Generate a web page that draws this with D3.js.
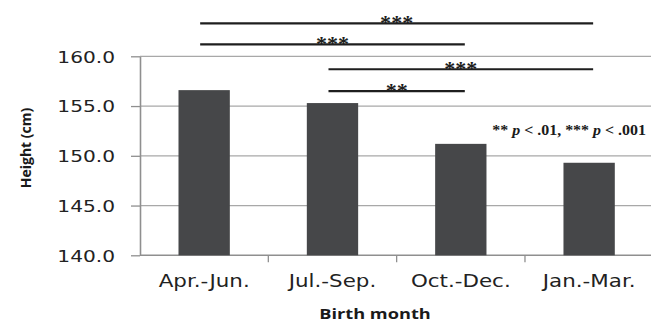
<!DOCTYPE html>
<html>
<head>
<meta charset="utf-8">
<script src="https://cdn.jsdelivr.net/npm/d3@7"></script>
<style>
  html, body { margin: 0; padding: 0; background: #fff; }
  svg { display: block; }
</style>
</head>
<body>
<svg id="chart" width="651" height="322"></svg>
<script>
// Mean height by birth quarter
const categories = ["Apr.-Jun.", "Jul.-Sep.", "Oct.-Dec.", "Jan.-Mar."];
const heights = [156.6, 155.3, 151.2, 149.3];
const yTicks = [140, 145, 150, 155, 160];

// Pairwise comparisons drawn as brackets above the bars
const compFrom = ["Apr.-Jun.", "Apr.-Jun.", "Jul.-Sep.", "Jul.-Sep."];
const compTo = ["Jan.-Mar.", "Oct.-Dec.", "Jan.-Mar.", "Oct.-Dec."];
const compLevel = [163.3, 161.2, 158.7, 156.5];
const compStars = ["***", "***", "***", "**"];

const svg = d3.select("#chart");

const plotLeft = 140, plotRight = 653.3, plotTop = 56.3, plotBottom = 255.3;
const x = d3.scaleBand().domain(categories).range([plotLeft, plotRight])
  .paddingInner(0.6).paddingOuter(0.3);
const y = d3.scaleLinear().domain([140, 160]).range([plotBottom, plotTop]);

const gridColor = "#a8a8a8", axisColor = "#8f8f8f";
const stretch = 1.26;

// horizontal gridlines
svg.append("g").selectAll("line").data(yTicks.slice(1)).join("line")
  .attr("x1", plotLeft).attr("x2", 651)
  .attr("y1", d => y(d)).attr("y2", d => y(d))
  .attr("stroke", gridColor).attr("stroke-width", 1.3);

// y axis
const yAxis = svg.append("g").attr("transform", `translate(${plotLeft},0)`)
  .call(d3.axisLeft(y).tickValues(yTicks).tickFormat(d3.format(".1f"))
    .tickSize(9).tickSizeOuter(0));
yAxis.select(".domain").attr("stroke", axisColor).attr("stroke-width", 1.6);
yAxis.selectAll(".tick line").attr("stroke", axisColor).attr("stroke-width", 1.3);
yAxis.selectAll(".tick text")
  .attr("x", null).attr("dy", "0.36em")
  .attr("transform", `translate(-25,0) scale(${stretch},1)`)
  .attr("fill", "#222")
  .style("font-family", "'DejaVu Sans', Verdana, sans-serif")
  .style("font-size", "16px");

// x axis
const boundaries = categories.slice(1).map(c => x(c) - x.step() * x.paddingInner() / 2);
const xAxis = svg.append("g");
xAxis.append("line").attr("x1", plotLeft).attr("x2", 651)
  .attr("y1", plotBottom).attr("y2", plotBottom)
  .attr("stroke", axisColor).attr("stroke-width", 1.6);
xAxis.selectAll("line.tk").data(boundaries).join("line").attr("class", "tk")
  .attr("x1", d => d).attr("x2", d => d)
  .attr("y1", plotBottom).attr("y2", plotBottom + 7)
  .attr("stroke", axisColor).attr("stroke-width", 1.3);
xAxis.selectAll("text").data(categories).join("text")
  .attr("transform", d => `translate(${x(d) + x.bandwidth() / 2},286.7) scale(${stretch},1)`)
  .attr("text-anchor", "middle")
  .attr("fill", "#222")
  .style("font-family", "'DejaVu Sans', Verdana, sans-serif")
  .style("font-size", "17px")
  .text(d => d);

// bars
svg.append("g").selectAll("rect").data(heights).join("rect")
  .attr("x", (d, i) => x(categories[i]))
  .attr("width", x.bandwidth())
  .attr("y", d => y(d))
  .attr("height", d => plotBottom - y(d))
  .attr("fill", "#464749");

// axis titles
svg.append("text")
  .attr("transform", `translate(375,318.5) scale(1.3,1)`)
  .attr("text-anchor", "middle")
  .attr("fill", "#1a1a1a")
  .style("font-family", "'Open Sans', sans-serif")
  .style("font-weight", "bold")
  .style("font-size", "14px")
  .text("Birth month");

svg.append("text")
  .attr("transform", `translate(31,148) rotate(-90)`)
  .attr("text-anchor", "middle")
  .attr("fill", "#1a1a1a")
  .style("font-family", "'Open Sans', sans-serif")
  .style("font-weight", "bold")
  .style("font-size", "14px")
  .text("Height (cm)");

// significance brackets
const brackets = svg.append("g");
compFrom.forEach((from, i) => {
  const x1 = x(from) + x.bandwidth() / 2 - 4;
  const x2 = x(compTo[i]) + x.bandwidth() / 2 + 4;
  const ly = y(compLevel[i]);
  brackets.append("line")
    .attr("x1", x1).attr("x2", x2).attr("y1", ly).attr("y2", ly)
    .attr("stroke", "#1e1e1e").attr("stroke-width", 2.2);
  brackets.append("text")
    .attr("transform", `translate(${(x1 + x2) / 2},${ly + 7}) scale(1.05,1)`)
    .attr("text-anchor", "middle")
    .attr("fill", "#1e1e1e")
    .style("font-family", "'Liberation Serif', 'Times New Roman', serif")
    .style("font-weight", "bold")
    .style("font-size", "21px")
    .text(compStars[i]);
});

// significance legend
const note = svg.append("text")
  .attr("transform", `translate(646,135.3) scale(1.1,1)`)
  .attr("text-anchor", "end")
  .attr("fill", "#1a1a1a")
  .style("font-family", "'Liberation Serif', 'Times New Roman', serif")
  .style("font-weight", "bold")
  .style("font-size", "14.5px");
note.append("tspan").text("** ");
note.append("tspan").style("font-style", "italic").text("p");
note.append("tspan").text(" < .01, *** ");
note.append("tspan").style("font-style", "italic").text("p");
note.append("tspan").text(" < .001");
</script>
</body>
</html>
